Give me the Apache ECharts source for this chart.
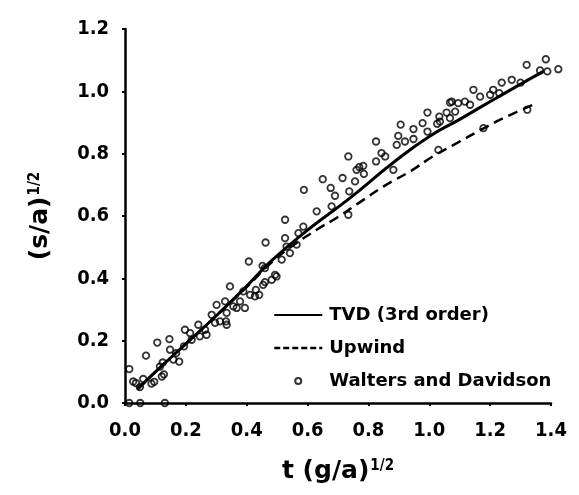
<!DOCTYPE html>
<html>
<head>
<meta charset="utf-8">
<script src="https://cdn.jsdelivr.net/npm/echarts@6/dist/echarts.min.js"></script>
<style>
  html, body { margin: 0; padding: 0; background: #fff; }
  #chart { width: 579px; height: 495px; }
</style>
</head>
<body>
<div id="chart"></div>
<script>
// Axis ticks
const xTicks = [0.0, 0.2, 0.4, 0.6, 0.8, 1.0, 1.2, 1.4];
const yTicks = [0.0, 0.2, 0.4, 0.6, 0.8, 1.0, 1.2];

// Series names
const seriesNames = ['TVD (3rd order)', 'Upwind', 'Walters and Davidson'];

// TVD (3rd order) computed curve: [t (g/a)^1/2, (s/a)^1/2]
const tvdCurve = [
  [0.04, 0.043], [0.10, 0.100], [0.20, 0.190], [0.30, 0.280], [0.40, 0.375],
  [0.48, 0.455], [0.60, 0.555], [0.74, 0.658], [0.88, 0.770], [1.00, 0.855],
  [1.10, 0.910], [1.17, 0.950], [1.28, 1.012], [1.375, 1.064]
];

// Upwind computed curve
const upwindCurve = [
  [0.04, 0.043], [0.10, 0.100], [0.20, 0.190], [0.30, 0.280], [0.40, 0.372],
  [0.48, 0.450], [0.54, 0.497], [0.63, 0.556], [0.70, 0.597], [0.77, 0.643],
  [0.85, 0.695], [0.94, 0.745], [1.01, 0.790], [1.08, 0.828], [1.18, 0.882],
  [1.25, 0.917], [1.353, 0.962]
];

// Walters and Davidson experimental measurements
const waltersData = [
  [0.014, 0.0], [0.050, 0.0], [0.131, 0.0],
  [0.014, 0.109], [0.027, 0.069], [0.036, 0.064], [0.049, 0.051], [0.060, 0.077],
  [0.069, 0.152], [0.087, 0.062], [0.096, 0.068], [0.106, 0.194], [0.115, 0.117],
  [0.121, 0.085], [0.128, 0.092], [0.124, 0.130], [0.146, 0.205], [0.148, 0.171],
  [0.159, 0.139], [0.168, 0.160], [0.178, 0.133], [0.194, 0.182], [0.197, 0.235],
  [0.214, 0.224], [0.219, 0.203], [0.241, 0.251], [0.246, 0.214], [0.263, 0.235],
  [0.268, 0.219], [0.285, 0.283], [0.296, 0.257], [0.301, 0.315], [0.312, 0.262],
  [0.329, 0.326], [0.332, 0.262], [0.334, 0.289], [0.334, 0.251], [0.345, 0.374],
  [0.356, 0.310], [0.367, 0.305], [0.378, 0.326], [0.389, 0.358], [0.394, 0.305],
  [0.407, 0.454], [0.411, 0.347], [0.427, 0.342], [0.430, 0.363], [0.441, 0.347],
  [0.452, 0.440], [0.454, 0.379], [0.460, 0.388], [0.460, 0.433], [0.462, 0.515],
  [0.482, 0.395], [0.493, 0.411], [0.498, 0.406], [0.515, 0.460], [0.526, 0.529],
  [0.526, 0.588], [0.531, 0.502], [0.542, 0.481], [0.564, 0.508], [0.570, 0.545],
  [0.586, 0.566], [0.588, 0.684], [0.630, 0.615], [0.650, 0.718], [0.676, 0.690],
  [0.679, 0.631], [0.690, 0.665], [0.715, 0.722], [0.734, 0.791], [0.737, 0.679],
  [0.734, 0.604], [0.756, 0.711], [0.761, 0.748], [0.770, 0.757], [0.783, 0.761],
  [0.785, 0.735], [0.825, 0.839], [0.825, 0.775], [0.843, 0.802], [0.855, 0.791],
  [0.882, 0.748], [0.893, 0.828], [0.898, 0.857], [0.906, 0.893], [0.920, 0.839],
  [0.948, 0.879], [0.948, 0.847], [0.978, 0.898], [0.994, 0.932], [0.994, 0.871],
  [1.026, 0.896], [1.030, 0.812], [1.033, 0.919], [1.035, 0.903], [1.057, 0.932],
  [1.068, 0.964], [1.068, 0.914], [1.074, 0.967], [1.085, 0.935], [1.095, 0.962],
  [1.117, 0.967], [1.134, 0.957], [1.145, 1.005], [1.167, 0.983], [1.178, 0.882],
  [1.200, 0.989], [1.210, 1.005], [1.230, 0.994], [1.238, 1.028], [1.271, 1.037],
  [1.300, 1.028], [1.320, 1.085], [1.322, 0.941], [1.364, 1.067], [1.383, 1.103],
  [1.388, 1.064], [1.424, 1.071]
];

const tickFont = 'DejaVu Sans Condensed';
const textFont = 'DejaVu Sans';
const ink = '#000';
const clear = 'rgba(0,0,0,0)';

const chart = echarts.init(document.getElementById('chart'), null, { renderer: 'canvas' });

const axisCommon = {
  type: 'value',
  interval: 0.2,
  min: 0,
  splitLine: { show: false },
  axisLine: { show: true, lineStyle: { color: ink, width: 2.5 } },
  axisTick: { show: true, length: 3, lineStyle: { color: ink, width: 2 } },
  axisLabel: {
    color: ink,
    fontFamily: tickFont,
    fontWeight: 'bold',
    fontSize: 20,
    formatter: v => v.toFixed(1)
  },
  nameLocation: 'middle'
};

const nameStyle = {
  color: ink,
  fontFamily: textFont,
  fontWeight: 'bold',
  fontSize: 25,
  rich: {
    sup: {
      color: ink,
      fontFamily: tickFont,
      fontWeight: 'bold',
      fontSize: 15,
      verticalAlign: 'top',
      padding: [0, 0, 0, 1]
    }
  }
};

chart.setOption({
  backgroundColor: '#fff',
  animation: false,
  grid: { left: 125, right: 28, top: 29, bottom: 92, containLabel: false },
  xAxis: Object.assign({}, axisCommon, {
    max: 1.4,
    axisLabel: Object.assign({}, axisCommon.axisLabel, { margin: 18 }),
    name: 't (g/a){sup|1/2}',
    nameGap: 56,
    nameTextStyle: nameStyle
  }),
  yAxis: Object.assign({}, axisCommon, {
    max: 1.2,
    axisLabel: Object.assign({}, axisCommon.axisLabel, { margin: 16 }),
    name: '(s/a){sup|1/2}',
    nameRotate: 90,
    nameGap: 72,
    nameTextStyle: nameStyle
  }),
  legend: {
    orient: 'vertical',
    left: 268,
    top: 301,
    itemWidth: 48,
    itemHeight: 6,
    itemGap: 15,
    selectedMode: false,
    textStyle: {
      color: ink,
      fontFamily: textFont,
      fontWeight: 'bold',
      fontSize: 18,
      padding: [0, 0, 0, 2]
    },
    data: [
      { name: seriesNames[0], itemStyle: { color: clear, borderColor: clear, borderWidth: 0 } },
      { name: seriesNames[1], itemStyle: { color: clear, borderColor: clear, borderWidth: 0 },
        lineStyle: { type: [6, 3], width: 2.5 } },
      { name: seriesNames[2], icon: 'circle' }
    ]
  },
  series: [
    {
      name: seriesNames[2],
      type: 'scatter',
      data: waltersData,
      clip: false,
      symbol: 'circle',
      symbolSize: 6.5,
      itemStyle: { color: clear, borderColor: ink, borderWidth: 1.8 },
      z: 2
    },
    {
      name: seriesNames[1],
      type: 'line',
      data: upwindCurve,
      smooth: true,
      symbol: 'none',
      lineStyle: { color: ink, width: 2.5, type: [10, 6] },
      itemStyle: { color: ink },
      z: 3
    },
    {
      name: seriesNames[0],
      type: 'line',
      data: tvdCurve,
      smooth: true,
      symbol: 'none',
      lineStyle: { color: ink, width: 3 },
      itemStyle: { color: ink },
      z: 4
    }
  ]
});
</script>
</body>
</html>
